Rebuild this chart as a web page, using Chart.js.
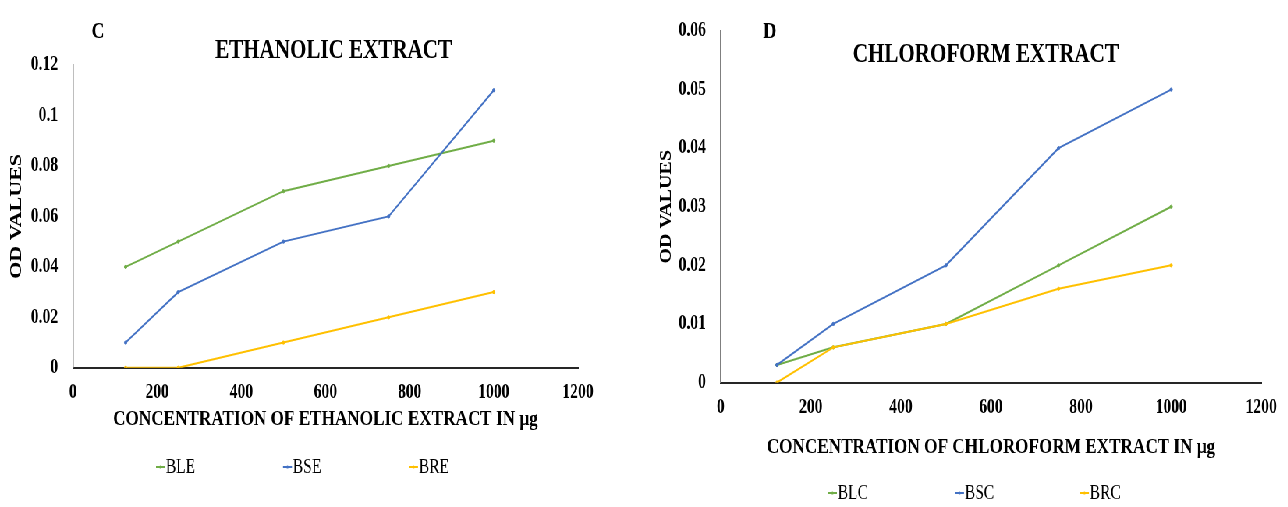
<!DOCTYPE html>
<html>
<head>
<meta charset="utf-8">
<script src="https://cdn.jsdelivr.net/npm/chart.js@4.4.1/dist/chart.umd.min.js"></script>
<style>
  html, body { margin: 0; padding: 0; background: #fff; overflow: hidden; }
  #wrap { position: absolute; left: 0; top: 0; width: 1651px; height: 507px; transform: scaleX(0.78); transform-origin: 0 0; }
  #ethanolic { position: absolute; left: 0; top: 0; }
  #chloroform { position: absolute; left: 820px; top: 0; }
</style>
</head>
<body>
<div id="wrap">
  <canvas id="ethanolic" width="820" height="507"></canvas>
  <canvas id="chloroform" width="831" height="507"></canvas>
</div>
<script>
const concentrations = [125, 250, 500, 750, 1000];
const xTicks = [0, 200, 400, 600, 800, 1000, 1200];

const ethanolicSeries = ["BLE", "BSE", "BRE"];
const ble = [0.04, 0.05, 0.07, 0.08, 0.09];
const bse = [0.01, 0.03, 0.05, 0.06, 0.11];
const bre = [0, 0, 0.01, 0.02, 0.03];
const ethanolicTicks = [0, 0.02, 0.04, 0.06, 0.08, 0.1, 0.12];

const chloroformSeries = ["BLC", "BSC", "BRC"];
const blc = [0.003, 0.006, 0.01, 0.02, 0.03];
const bsc = [0.003, 0.01, 0.02, 0.04, 0.05];
const brc = [0, 0.006, 0.01, 0.016, 0.02];
const chloroformTicks = [0, 0.01, 0.02, 0.03, 0.04, 0.05, 0.06];

const colours = ["#70AD47", "#4472C4", "#FFC000"];
const serif = "'Liberation Serif', 'Times New Roman', serif";

// titles, panel letter and legend drawn at fixed spots
const annotate = {
  id: "annotate",
  afterDraw(chart, args, opts) {
    const ctx = chart.ctx;
    ctx.save();
    ctx.fillStyle = "#000";
    ctx.textBaseline = "middle";
    ctx.textAlign = "center";
    ctx.font = "bold " + opts.letterSize + "px " + serif;
    ctx.fillText(opts.letter, opts.letterX, opts.letterY);
    ctx.font = "bold 27px " + serif;
    ctx.fillText(opts.title, opts.titleX, opts.titleY);

    ctx.font = "20px " + serif;
    ctx.textAlign = "left";
    chart.data.datasets.forEach((ds, i) => {
      const x = opts.legendX[i];
      const y = opts.legendY;
      ctx.strokeStyle = ds.borderColor;
      ctx.lineWidth = 2;
      ctx.beginPath();
      ctx.moveTo(x, y);
      ctx.lineTo(x + 11.5, y);
      ctx.stroke();
      ctx.fillStyle = ds.borderColor;
      ctx.beginPath();
      ctx.arc(x + 5.75, y, 1.6, 0, Math.PI * 2);
      ctx.fill();
      ctx.fillStyle = "#000";
      ctx.fillText(ds.label, x + 12.5, y + 1);
    });
    ctx.restore();
  }
};

function series(names, values) {
  return names.map((name, i) => ({
    label: name,
    data: concentrations.map((x, j) => ({ x: x, y: values[i][j] })),
    borderColor: colours[i],
    backgroundColor: colours[i],
    borderWidth: 2,
    pointRadius: 1.6,
    pointBorderWidth: 1,
    order: 3 - i
  }));
}

function makeChart(id, cfg) {
  return new Chart(document.getElementById(id), {
    type: "line",
    data: { datasets: series(cfg.names, cfg.values) },
    plugins: [annotate],
    options: {
      responsive: false,
      animation: false,
      layout: { padding: cfg.padding },
      plugins: {
        legend: { display: false },
        tooltip: { enabled: false },
        annotate: cfg.annot
      },
      scales: {
        x: {
          type: "linear",
          min: 0,
          max: 1200,
          afterBuildTicks: s => { s.ticks = xTicks.map(v => ({ value: v })); },
          afterFit: s => { s.height = cfg.xHeight; },
          grid: { display: false, drawTicks: false },
          border: { display: true, color: "#262626", width: 2 },
          ticks: {
            padding: 13,
            color: "#000",
            font: { family: serif, size: 20, weight: "bold" },
            callback: v => String(v)
          },
          title: {
            display: true,
            text: cfg.xTitle,
            color: "#000",
            padding: 0,
            font: { family: serif, size: 22, weight: "bold" }
          }
        },
        y: {
          min: 0,
          max: cfg.yTicks[cfg.yTicks.length - 1],
          afterBuildTicks: s => { s.ticks = cfg.yTicks.map(v => ({ value: v })); },
          afterFit: s => { s.width = cfg.yWidth; },
          grid: { display: false, drawTicks: false },
          border: { display: true, color: "#7f7f7f", width: 1.5 },
          ticks: {
            padding: 19,
            color: "#000",
            font: { family: serif, size: 20, weight: "bold" },
            callback: v => String(+v.toFixed(3))
          },
          title: {
            display: true,
            text: "OD VALUES",
            color: "#000",
            padding: { top: cfg.yTitlePad, bottom: 0 },
            font: { family: serif, size: cfg.yTitleSize, weight: "bold" }
          }
        }
      }
    }
  });
}

makeChart("ethanolic", {
  names: ethanolicSeries,
  values: [ble, bse, bre],
  yTicks: ethanolicTicks,
  xTitle: "CONCENTRATION OF ETHANOLIC EXTRACT IN µg",
  padding: { left: 0, right: 79, top: 65, bottom: 74 },
  xHeight: 65.2,
  yWidth: 93.6,
  yTitlePad: 8.6,
  yTitleSize: 22,
  annot: {
    letter: "C", letterSize: 23, letterX: 125.6, letterY: 32,
    title: "ETHANOLIC EXTRACT", titleX: 427.6, titleY: 51,
    legendX: [200, 362.8, 524.4], legendY: 467
  }
});

makeChart("chloroform", {
  names: chloroformSeries,
  values: [blc, bsc, brc],
  yTicks: chloroformTicks,
  xTitle: "CONCENTRATION OF CHLOROFORM EXTRACT IN µg",
  padding: { left: 0, right: 34, top: 18, bottom: 46.8 },
  xHeight: 77.7,
  yWidth: 104,
  yTitlePad: 23,
  yTitleSize: 20,
  annot: {
    letter: "D", letterSize: 24, letterX: 167, letterY: 32,
    title: "CHLOROFORM EXTRACT", titleX: 444, titleY: 55,
    legendX: [241.5, 404.4, 564.6], legendY: 493
  }
});
</script>
</body>
</html>
